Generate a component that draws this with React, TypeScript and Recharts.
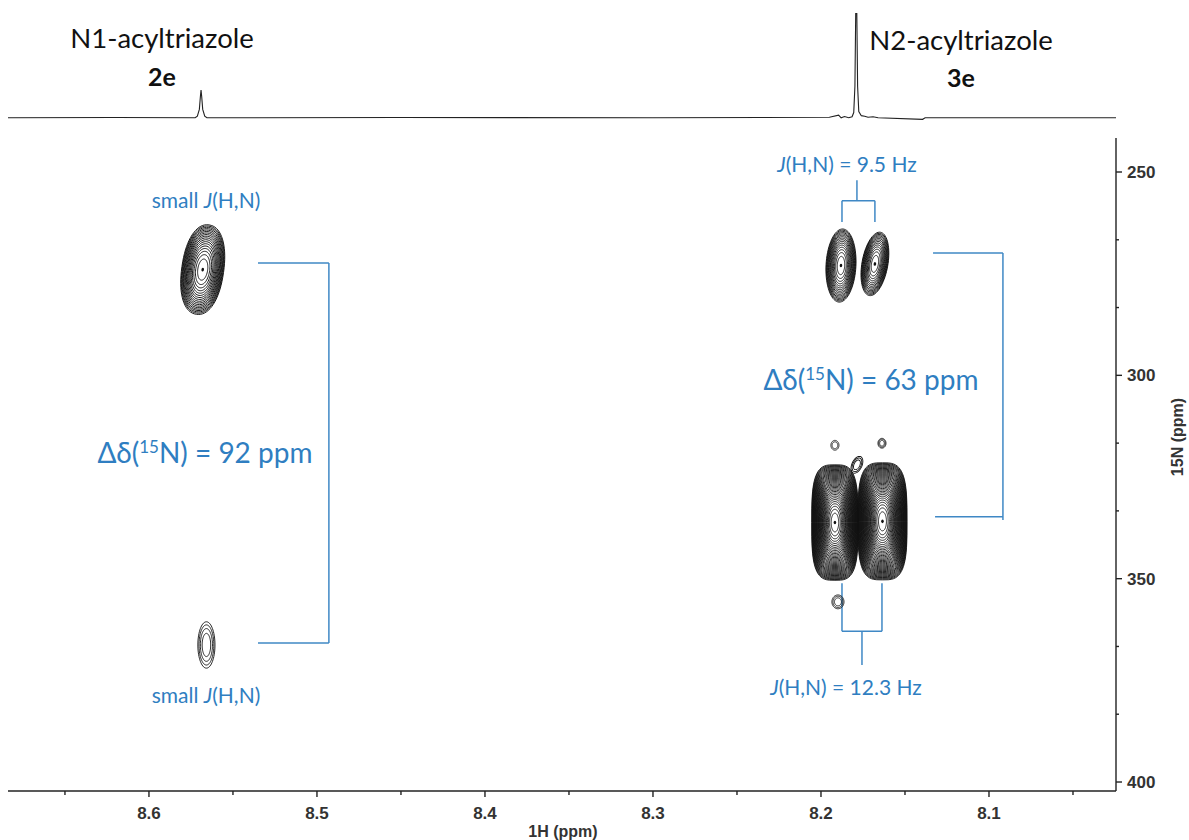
import { ScatterChart, Scatter, LineChart, Line, XAxis, YAxis, ReferenceLine } from 'recharts';

// chemical shift window (ppm)
const H_MIN = 8.0244;
const H_MAX = 8.6839;
const N_MIN = 241.64;
const N_MAX = 402.21;

const hTicks = [8.65, 8.6, 8.55, 8.5, 8.45, 8.4, 8.35, 8.3, 8.25, 8.2, 8.15, 8.1, 8.05];
const nTicks = [250, 266.67, 283.33, 300, 316.67, 333.33, 350, 366.67, 383.33, 400];

// 1D 1H projection trace (ppm, intensity)
const projH = [8.6839, 8.62, 8.5725, 8.5712, 8.57, 8.5694, 8.569, 8.5686, 8.568, 8.5668, 8.5655, 8.45, 8.3, 8.195, 8.1895, 8.188, 8.186, 8.1835, 8.1815, 8.1805, 8.1798, 8.1793, 8.1787, 8.1782, 8.1775, 8.176, 8.174, 8.172, 8.169, 8.166, 8.1395, 8.138, 8.0244];
const projI = [0, 0.3, 0, 1.5, 8, 20, 26.5, 20, 8, 1.5, 0, 0.3, 0, 0.5, 2.5, 0, 1.2, 0, 1, 5, 30, 104, 104, 30, 6, 2, 1.5, 0.5, 1, 0, -1.5, 0, 0];

// 2D cross peaks: centre (1H, 15N), half widths, number of contour levels, tilt, squareness
const peakH = [8.568, 8.5658, 8.1881, 8.1679, 8.1917, 8.1634, 8.1917, 8.1637, 8.1899, 8.1786];
const peakN = [274.0, 366.3, 273.0, 272.6, 336.2, 335.9, 317.2, 316.7, 355.7, 322.0];
const peakDH = [0.0125, 0.0051, 0.0089, 0.0077, 0.0138, 0.0146, 0.0024, 0.0024, 0.0036, 0.003];
const peakDN = [11.1, 5.7, 9.0, 7.9, 14.2, 14.4, 1.2, 1.2, 1.7, 2.2];
const peakLevels = [18, 4, 16, 14, 38, 38, 2, 3, 3, 3];
const peakTilt = [8, 0, 3, 10, 0, 0, 0, 0, 0, 25];
const peakSquare = [2.2, 2, 2, 2, 3.4, 3.4, 2, 2, 2, 2];

// annotation brackets in ppm
const brackets: [number, number, number, number][] = [
  [8.5351, 272.4, 8.4929, 272.4],
  [8.4929, 272.4, 8.4929, 365.8],
  [8.5351, 365.8, 8.4929, 365.8],
  [8.1333, 269.9, 8.0917, 269.9],
  [8.0917, 269.9, 8.0917, 335.6],
  [8.1321, 334.8, 8.0917, 334.8],
  [8.1786, 252.0, 8.1786, 257.1],
  [8.1875, 257.1, 8.1679, 257.1],
  [8.1875, 257.1, 8.1875, 262.3],
  [8.1679, 257.1, 8.1679, 262.3],
  [8.1875, 351.1, 8.1875, 362.9],
  [8.1637, 351.1, 8.1637, 362.9],
  [8.1875, 362.9, 8.1637, 362.9],
  [8.1756, 362.9, 8.1756, 371.2],
];

const projData = projH.map((h, i) => ({ h, v: projI[i] }));
const peakData = peakH.map((h, i) => ({
  h,
  n: peakN[i],
  dh: peakDH[i],
  dn: peakDN[i],
  levels: peakLevels[i],
  tilt: peakTilt[i],
  square: peakSquare[i],
}));

const W = 1189;
const H = 840;
const PLOT_L = 8;
const PLOT_R = 1116;
const PLOT_T = 138;
const PLOT_B = 791;
const PX_PER_H = (PLOT_R - PLOT_L) / (H_MAX - H_MIN);
const PX_PER_N = (PLOT_B - PLOT_T) / (N_MAX - N_MIN);

const BLUE = '#2f7ec1';
const LINE_BLUE = '#3f88c5';
const AXIS = '#222';
const tickFont = '"Liberation Sans", Arial, sans-serif';
const noteFont = 'Lato, "Open Sans", sans-serif';

function ringPath(cx: number, cy: number, rx: number, ry: number, p: number) {
  const pts: string[] = [];
  const n = 72;
  for (let i = 0; i < n; i++) {
    const a = (i / n) * Math.PI * 2;
    const c = Math.cos(a);
    const s = Math.sin(a);
    const x = cx + rx * Math.sign(c) * Math.pow(Math.abs(c), 2 / p);
    const y = cy + ry * Math.sign(s) * Math.pow(Math.abs(s), 2 / p);
    pts.push(`${x.toFixed(2)},${y.toFixed(2)}`);
  }
  return 'M' + pts.join('L') + 'Z';
}

function ContourPeak(props: any) {
  const { cx, cy, payload } = props;
  if (cx == null || cy == null || !payload) return null;
  const rx = payload.dh * PX_PER_H;
  const ry = payload.dn * PX_PER_N;
  const rings = [];
  for (let k = 0; k < payload.levels; k++) {
    const s = Math.sqrt(1 - k / payload.levels);
    const p = 2 + (payload.square - 2) * s * s;
    rings.push(<path key={k} d={ringPath(cx, cy, rx * s, ry * s, p)} />);
  }
  return (
    <g transform={`rotate(${payload.tilt} ${cx} ${cy})`} fill="none" stroke="#111" strokeWidth={0.9}>
      {rings}
      {payload.levels > 8 && <ellipse cx={cx} cy={cy} rx={1.3} ry={1.8} fill="#111" stroke="none" />}
    </g>
  );
}

function HTick(props: any) {
  const { x, y, payload } = props;
  const v = payload.value as number;
  const major = Math.abs(v * 10 - Math.round(v * 10)) < 1e-6;
  return (
    <g>
      <line x1={x} x2={x} y1={y} y2={y + (major ? 6 : 4)} stroke={AXIS} strokeWidth={1.4} />
      {major && (
        <text x={x} y={y + 28} textAnchor="middle" fontFamily={tickFont} fontWeight="bold" fontSize={17} fill="#333">
          {v.toFixed(1)}
        </text>
      )}
    </g>
  );
}

function NTick(props: any) {
  const { x, y, payload } = props;
  const v = payload.value as number;
  const major = Math.abs(v % 50) < 1e-6;
  return (
    <g>
      <line x1={x} x2={x + (major ? 6 : 3)} y1={y} y2={y} stroke={AXIS} strokeWidth={1.4} />
      {major && (
        <text x={x + 11} y={y + 6} textAnchor="start" fontFamily={tickFont} fontWeight="bold" fontSize={17} fill="#333">
          {v}
        </text>
      )}
    </g>
  );
}

function Delta({ x, y, value }: { x: number; y: number; value: string }) {
  return (
    <text x={x} y={y} textAnchor="middle" fontFamily={noteFont} fontSize={28} fill={BLUE}>
      <tspan>Δδ(</tspan>
      <tspan fontSize={17} dy={-10}>15</tspan>
      <tspan dy={10}>N) = {value} ppm</tspan>
    </text>
  );
}

function JLabel({ x, y, prefix, suffix }: { x: number; y: number; prefix: string; suffix: string }) {
  return (
    <text x={x} y={y} textAnchor="middle" fontFamily={noteFont} fontSize={21} fill={BLUE}>
      {prefix}
      <tspan fontStyle="italic">J</tspan>
      <tspan>(H,N){suffix}</tspan>
    </text>
  );
}

export default function App() {
  return (
    <div style={{ position: 'absolute', left: 0, top: 0, width: W, height: H, background: '#fff' }}>
      <div style={{ position: 'absolute', left: 0, top: 0 }}>
        <LineChart width={W} height={130} data={projData} margin={{ top: 13, right: W - PLOT_R, bottom: 7, left: PLOT_L }}>
          <XAxis dataKey="h" type="number" domain={[H_MIN, H_MAX]} reversed allowDataOverflow hide />
          <YAxis type="number" domain={[-5, 100]} allowDataOverflow hide />
          <Line dataKey="v" type="linear" stroke="#222" strokeWidth={1.1} dot={false} isAnimationActive={false} />
        </LineChart>
      </div>
      <div style={{ position: 'absolute', left: 0, top: 0 }}>
        <ScatterChart width={W} height={H} margin={{ top: PLOT_T, right: W - PLOT_R - 60, bottom: H - PLOT_B - 30, left: PLOT_L }}>
          <XAxis
            dataKey="h"
            type="number"
            domain={[H_MIN, H_MAX]}
            reversed
            allowDataOverflow
            ticks={hTicks}
            interval={0}
            tickLine={false}
            tickSize={0}
            tickMargin={0}
            height={30}
            axisLine={{ stroke: AXIS, strokeWidth: 1.4 }}
            tick={<HTick />}
          />
          <YAxis
            dataKey="n"
            type="number"
            orientation="right"
            domain={[N_MIN, N_MAX]}
            reversed
            allowDataOverflow
            ticks={nTicks}
            interval={0}
            tickLine={false}
            tickSize={0}
            tickMargin={0}
            width={60}
            axisLine={{ stroke: AXIS, strokeWidth: 1.4 }}
            tick={<NTick />}
          />
          {brackets.map((b, i) => (
            <ReferenceLine
              key={i}
              segment={[{ x: b[0], y: b[1] }, { x: b[2], y: b[3] }]}
              stroke={LINE_BLUE}
              strokeWidth={1.5}
            />
          ))}
          <Scatter data={peakData} shape={(p: any) => <ContourPeak {...p} />} isAnimationActive={false} />
        </ScatterChart>
      </div>
      <svg width={W} height={H} style={{ position: 'absolute', left: 0, top: 0, pointerEvents: 'none' }}>
        <text x={162} y={48} textAnchor="middle" fontFamily={noteFont} fontSize={27.5} fill="#111">N1-acyltriazole</text>
        <text x={162} y={86} textAnchor="middle" fontFamily={noteFont} fontSize={25} fontWeight="bold" fill="#111">2e</text>
        <text x={961} y={50} textAnchor="middle" fontFamily={noteFont} fontSize={27.5} fill="#111">N2-acyltriazole</text>
        <text x={961} y={87} textAnchor="middle" fontFamily={noteFont} fontSize={25} fontWeight="bold" fill="#111">3e</text>

        <JLabel x={206} y={208} prefix="small " suffix="" />
        <JLabel x={206} y={703} prefix="small " suffix="" />
        <JLabel x={847} y={172} prefix="" suffix=" = 9.5 Hz" />
        <JLabel x={846} y={695} prefix="" suffix=" = 12.3 Hz" />

        <Delta x={205} y={463} value="92" />
        <Delta x={871} y={390} value="63" />

        <text x={563} y={837} textAnchor="middle" fontFamily={tickFont} fontWeight="bold" fontSize={16} fill="#333">1H (ppm)</text>
        <text
          x={1183}
          y={437}
          transform="rotate(-90 1183 437)"
          textAnchor="middle"
          fontFamily={tickFont}
          fontWeight="bold"
          fontSize={16}
          fill="#333"
        >
          15N (ppm)
        </text>
      </svg>
    </div>
  );
}
